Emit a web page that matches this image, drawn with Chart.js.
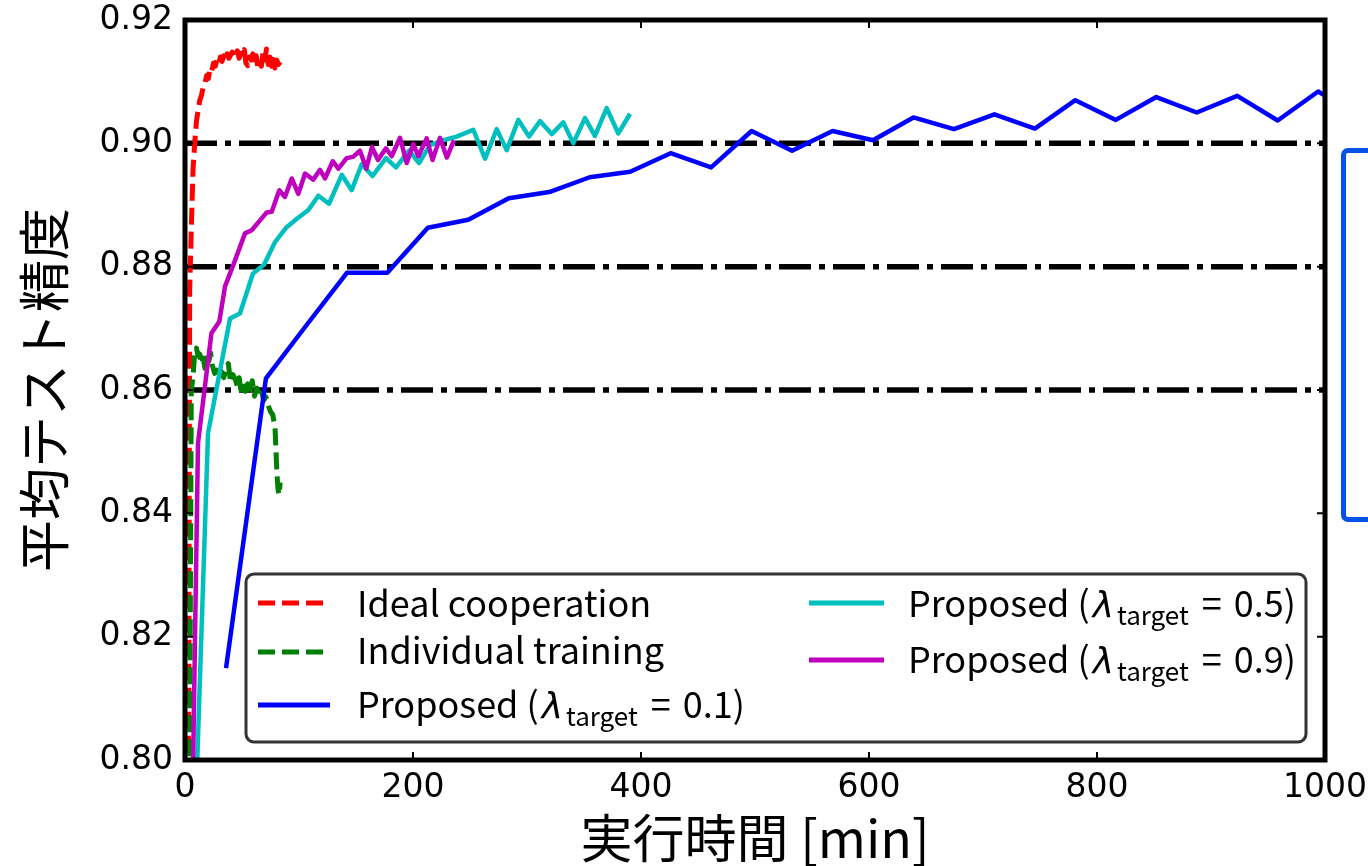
<!DOCTYPE html>
<html>
<head>
<meta charset="utf-8">
<script src="https://cdn.jsdelivr.net/npm/chart.js@4.4.0/dist/chart.umd.min.js"></script>
<style>
  html, body { margin: 0; padding: 0; background: #fff; overflow: hidden; }
  #wrap { position: relative; width: 1368px; height: 866px; }
  #note { position: absolute; left: 1341px; top: 148px; width: 80px; height: 374px;
          border: 5px solid #0652e6; border-radius: 7px; box-sizing: border-box; background: #fff; }
</style>
</head>
<body>
<div id="wrap">
  <canvas id="c" width="1368" height="866"></canvas>
  <div id="note"></div>
</div>
<script>
// ---- axis ticks ----
const xTickValues = [0, 200, 400, 600, 800, 1000];
const xTickLabels = ['0', '200', '400', '600', '800', '1000'];
const yTickValues = [0.80, 0.82, 0.84, 0.86, 0.88, 0.90, 0.92];
const yTickLabels = ['0.80', '0.82', '0.84', '0.86', '0.88', '0.90', '0.92'];

// ---- reference accuracy levels (dash-dot lines) ----
const targetLevels = [0.86, 0.88, 0.90];

// ---- Ideal cooperation ----
const idealTime = [2, 4.1, 5.5, 7, 8.5, 10, 11.5, 13, 14.5, 16, 17.5, 19, 20.5, 22, 23.5, 25, 26.5, 28, 29.5, 31,
  32.5, 34, 35.5, 37, 38.5, 40, 41.5, 43, 44.5, 46, 47.5, 49, 50.5, 52, 53.5, 55, 56.5, 58, 59.5, 61,
  62.5, 64, 65.5, 67, 68.5, 70, 71.5, 73, 74.5, 76, 77.5, 79, 80.5, 82, 83.5];
const idealAcc = [0.700, 0.8762, 0.8859, 0.8956, 0.9000, 0.9035, 0.9054, 0.9070, 0.9078, 0.9092, 0.9098, 0.9110,
  0.9105, 0.9122, 0.9118, 0.9130, 0.9125, 0.9135, 0.9128, 0.9140, 0.9133, 0.9142, 0.9136, 0.9145, 0.9138,
  0.9143, 0.9148, 0.9140, 0.9145, 0.9150, 0.9138, 0.9146, 0.9142, 0.9152, 0.9130, 0.9126, 0.9140, 0.9135,
  0.9145, 0.9128, 0.9142, 0.9122, 0.9130, 0.9125, 0.9150, 0.9135, 0.9153, 0.9128, 0.9140, 0.9125, 0.9136,
  0.9122, 0.9135, 0.9128, 0.9132];

// ---- Individual training ----
const indivTime = [3, 5.5, 7, 8.5, 10, 11.5, 13, 14.5, 16, 17.5, 19, 21, 22.5, 24, 26, 28, 30, 32, 34, 36, 38,
  40, 42, 44, 46, 47.5, 49, 51, 53, 55, 57, 59, 61, 63, 65, 67, 69, 71, 73, 75, 77, 79, 80.5, 81.5, 82.5, 83.5];
const indivAcc = [0.750, 0.8600, 0.8620, 0.8660, 0.8668, 0.8655, 0.8658, 0.8642, 0.8652, 0.8635, 0.8652, 0.8647,
  0.8660, 0.8640, 0.8627, 0.8632, 0.8620, 0.8630, 0.8620, 0.8633, 0.8643, 0.8612, 0.8625, 0.8618, 0.8605,
  0.8620, 0.8600, 0.8611, 0.8598, 0.8610, 0.8597, 0.8615, 0.8590, 0.8603, 0.8592, 0.8600, 0.8583, 0.8589,
  0.8575, 0.8565, 0.8560, 0.8538, 0.8470, 0.8440, 0.8430, 0.8450];

// ---- Proposed, lambda_target = 0.1 ----
const prop01Time = [36, 71, 106.5, 142, 177.5, 213, 248.5, 284, 319.5, 355, 390.5, 426, 461.5, 497, 532.5, 568,
  603.5, 639, 674.5, 710, 745.5, 781, 816.5, 852, 887.5, 923, 958.5, 994, 1029.5];
const prop01Acc = [0.8149, 0.8619, 0.8705, 0.8790, 0.8790, 0.8863, 0.8876, 0.8911, 0.8921, 0.8945, 0.8954, 0.8984,
  0.8961, 0.9020, 0.8988, 0.9020, 0.9005, 0.9042, 0.9023, 0.9047, 0.9024, 0.9070, 0.9038, 0.9075, 0.9050,
  0.9077, 0.9037, 0.9084, 0.9045];

// ---- Proposed, lambda_target = 0.5 ----
const prop05Time = [9, 20.2, 39.5, 48.2, 59.6, 69.3, 79, 88.6, 98.4, 108.2, 117, 126.3, 137.5, 146.2, 155, 164.5,
  176.3, 185.1, 196.5, 205.3, 214.9, 226.6, 238.3, 252.9, 263.2, 273.4, 282.2, 292.4, 301.8, 311.4, 321.7,
  331.8, 340.6, 350.9, 359.6, 369.9, 380.1, 390.4];
const prop05Acc = [0.790, 0.8530, 0.8716, 0.8724, 0.8789, 0.8803, 0.8840, 0.8863, 0.8878, 0.8892, 0.8915, 0.8902,
  0.8949, 0.8924, 0.8966, 0.8947, 0.8976, 0.8961, 0.8988, 0.8968, 0.8997, 0.9005, 0.9011, 0.9022, 0.8975,
  0.9023, 0.8989, 0.9038, 0.9011, 0.9036, 0.9015, 0.9034, 0.9000, 0.9041, 0.9012, 0.9057, 0.9016, 0.9048];

// ---- Proposed, lambda_target = 0.9 ----
const prop09Time = [5.5, 11.4, 23.2, 30.1, 35.1, 42.4, 52.6, 58.5, 71.7, 76.1, 82.7, 87.7, 93.6, 99.4, 105.3,
  112.5, 118.4, 122.8, 129.6, 134.5, 141.8, 147.4, 153.5, 159, 164, 169.3, 176.3, 181.3, 188.6, 194.5,
  200.3, 204.7, 212, 217.1, 223.7, 229.6, 236];
const prop09Acc = [0.780, 0.8514, 0.8692, 0.8711, 0.8768, 0.8803, 0.8854, 0.8859, 0.8888, 0.8889, 0.8924, 0.8913,
  0.8943, 0.8918, 0.8951, 0.8941, 0.8957, 0.8943, 0.8971, 0.8959, 0.8976, 0.8978, 0.8988, 0.8959, 0.8994,
  0.8973, 0.8992, 0.8979, 0.9009, 0.8968, 0.8999, 0.8979, 0.9008, 0.8973, 0.9009, 0.8977, 0.9005];

const seriesNames = ['Ideal cooperation', 'Individual training', 'Proposed'];
const lambdaTargets = [0.1, 0.5, 0.9];

const pts = (xs, ys) => xs.map((x, i) => ({ x: x, y: ys[i] }));

const RED = '#ff0000', GREEN = '#008000', BLUE = '#0000ff', CYAN = '#00bfbf', MAGENTA = '#bf00bf';
const DASH = [17, 7];
const DASHDOT = [32, 8, 6, 8];

const datasets = [
  { data: pts(prop09Time, prop09Acc), borderColor: MAGENTA, borderWidth: 4.5, order: 1 },
  { data: pts(prop05Time, prop05Acc), borderColor: CYAN, borderWidth: 4.5, order: 2 },
  { data: pts(prop01Time, prop01Acc), borderColor: BLUE, borderWidth: 4.5, order: 3 },
  { data: pts(indivTime, indivAcc), borderColor: GREEN, borderWidth: 5, borderDash: DASH, order: 4 },
  { data: pts(idealTime, idealAcc), borderColor: RED, borderWidth: 5, borderDash: DASH, order: 5 }
];
targetLevels.forEach(lv => datasets.push({
  data: [{ x: xTickValues[0], y: lv }, { x: xTickValues[xTickValues.length - 1], y: lv }],
  borderColor: '#000', borderWidth: 5.5, borderDash: DASHDOT, order: 10
}));
datasets.forEach(d => {
  d.pointRadius = 0; d.tension = 0; d.fill = false; d.clip = 0;
  d.borderCapStyle = 'butt'; d.borderJoinStyle = 'round';
});

// frame around the plotting area plus inward tick marks on all four sides
const framePlugin = {
  id: 'frame',
  afterDatasetsDraw(chart) {
    const { ctx, chartArea: a, scales } = chart;
    ctx.save();
    ctx.strokeStyle = '#000';
    ctx.lineWidth = 2;
    const L = 8;
    scales.x.ticks.forEach(t => {
      const px = scales.x.getPixelForValue(t.value);
      ctx.beginPath();
      ctx.moveTo(px, a.bottom); ctx.lineTo(px, a.bottom - L);
      ctx.moveTo(px, a.top); ctx.lineTo(px, a.top + L);
      ctx.stroke();
    });
    scales.y.ticks.forEach(t => {
      const py = scales.y.getPixelForValue(t.value);
      ctx.beginPath();
      ctx.moveTo(a.left, py); ctx.lineTo(a.left + L, py);
      ctx.moveTo(a.right, py); ctx.lineTo(a.right - L, py);
      ctx.stroke();
    });
    ctx.lineWidth = 5;
    ctx.strokeRect(a.left, a.top, a.right - a.left, a.bottom - a.top);
    ctx.restore();
  }
};

// legend with lambda_target subscripts
const legendPlugin = {
  id: 'mathLegend',
  afterDraw(chart) {
    const ctx = chart.ctx;
    const base = '36px "Noto Sans CJK JP"';
    const lam = 'italic 36px "DejaVu Sans"';
    const sub = '26px "Noto Sans CJK JP"';
    const proposed = lt => [
      { t: seriesNames[2] + ' (', f: base, gap: 3 },
      { t: 'λ', f: lam, gap: 3 },
      { t: 'target', f: sub, dy: 8, gap: 13 },
      { t: '=', f: base, gap: 12 },
      { t: lt.toFixed(1) + ')', f: base }
    ];
    const rows = [
      { c: RED, dash: DASH, x0: 258, x1: 330, ly: 603, tx: 357, by: 617, parts: [{ t: seriesNames[0], f: base }] },
      { c: GREEN, dash: DASH, x0: 258, x1: 330, ly: 652, tx: 357, by: 664, parts: [{ t: seriesNames[1], f: base }] },
      { c: BLUE, dash: [], x0: 258, x1: 330, ly: 705, tx: 357, by: 718, parts: proposed(lambdaTargets[0]) },
      { c: CYAN, dash: [], x0: 809, x1: 884, ly: 603, tx: 908, by: 617, parts: proposed(lambdaTargets[1]) },
      { c: MAGENTA, dash: [], x0: 809, x1: 884, ly: 660, tx: 908, by: 673, parts: proposed(lambdaTargets[2]) }
    ];
    ctx.save();
    const bx = 246, by = 574, bw = 1060, bh = 168, r = 8;
    ctx.beginPath();
    ctx.moveTo(bx + r, by);
    ctx.arcTo(bx + bw, by, bx + bw, by + bh, r);
    ctx.arcTo(bx + bw, by + bh, bx, by + bh, r);
    ctx.arcTo(bx, by + bh, bx, by, r);
    ctx.arcTo(bx, by, bx + bw, by, r);
    ctx.closePath();
    ctx.fillStyle = '#fff';
    ctx.fill();
    ctx.lineWidth = 3;
    ctx.strokeStyle = '#333';
    ctx.stroke();
    rows.forEach(row => {
      ctx.beginPath();
      ctx.setLineDash(row.dash);
      ctx.lineWidth = 5;
      ctx.strokeStyle = row.c;
      ctx.moveTo(row.x0, row.ly); ctx.lineTo(row.x1, row.ly);
      ctx.stroke();
      ctx.setLineDash([]);
      let x = row.tx;
      ctx.fillStyle = '#000';
      ctx.textBaseline = 'alphabetic';
      ctx.textAlign = 'left';
      row.parts.forEach(p => {
        ctx.font = p.f;
        ctx.fillText(p.t, x, row.by + (p.dy || 0));
        x += ctx.measureText(p.t).width + (p.gap || 0);
      });
    });
    ctx.restore();
  }
};

const tickFont = { family: 'DejaVu Sans', size: 33 };

new Chart(document.getElementById('c'), {
  type: 'line',
  data: { datasets: datasets },
  options: {
    responsive: false,
    animation: false,
    events: [],
    layout: { padding: { left: 0, right: 43, top: 20, bottom: 0 } },
    plugins: { legend: { display: false }, tooltip: { enabled: false } },
    scales: {
      x: {
        type: 'linear', min: 0, max: 1000,
        afterBuildTicks: s => { s.ticks = xTickValues.map(v => ({ value: v })); },
        afterFit: s => { s.height = 106; s.paddingLeft = 0; s.paddingRight = 0; },
        ticks: { font: tickFont, color: '#000', padding: 9, maxRotation: 0,
                 callback: (v, i) => xTickLabels[i] },
        grid: { display: false, drawTicks: false },
        border: { display: false },
        title: { display: true, text: '実行時間 [min]', color: '#000',
                 font: { family: 'Noto Sans CJK JP', size: 52, lineHeight: 1 }, padding: { top: 0, bottom: 2 } }
      },
      y: {
        type: 'linear', min: 0.80, max: 0.92,
        afterBuildTicks: s => { s.ticks = yTickValues.map(v => ({ value: v })); },
        afterFit: s => { s.width = 185; s.paddingTop = 0; s.paddingBottom = 0; },
        ticks: { font: tickFont, color: '#000', padding: 12,
                 callback: (v, i) => yTickLabels[i] },
        grid: { display: false, drawTicks: false },
        border: { display: false },
        title: { display: true, text: '平均テスト精度', color: '#000',
                 font: { family: 'Noto Sans CJK JP', size: 52, lineHeight: 1 }, padding: { top: 18, bottom: 0 } }
      }
    }
  },
  plugins: [framePlugin, legendPlugin]
});
</script>
</body>
</html>
